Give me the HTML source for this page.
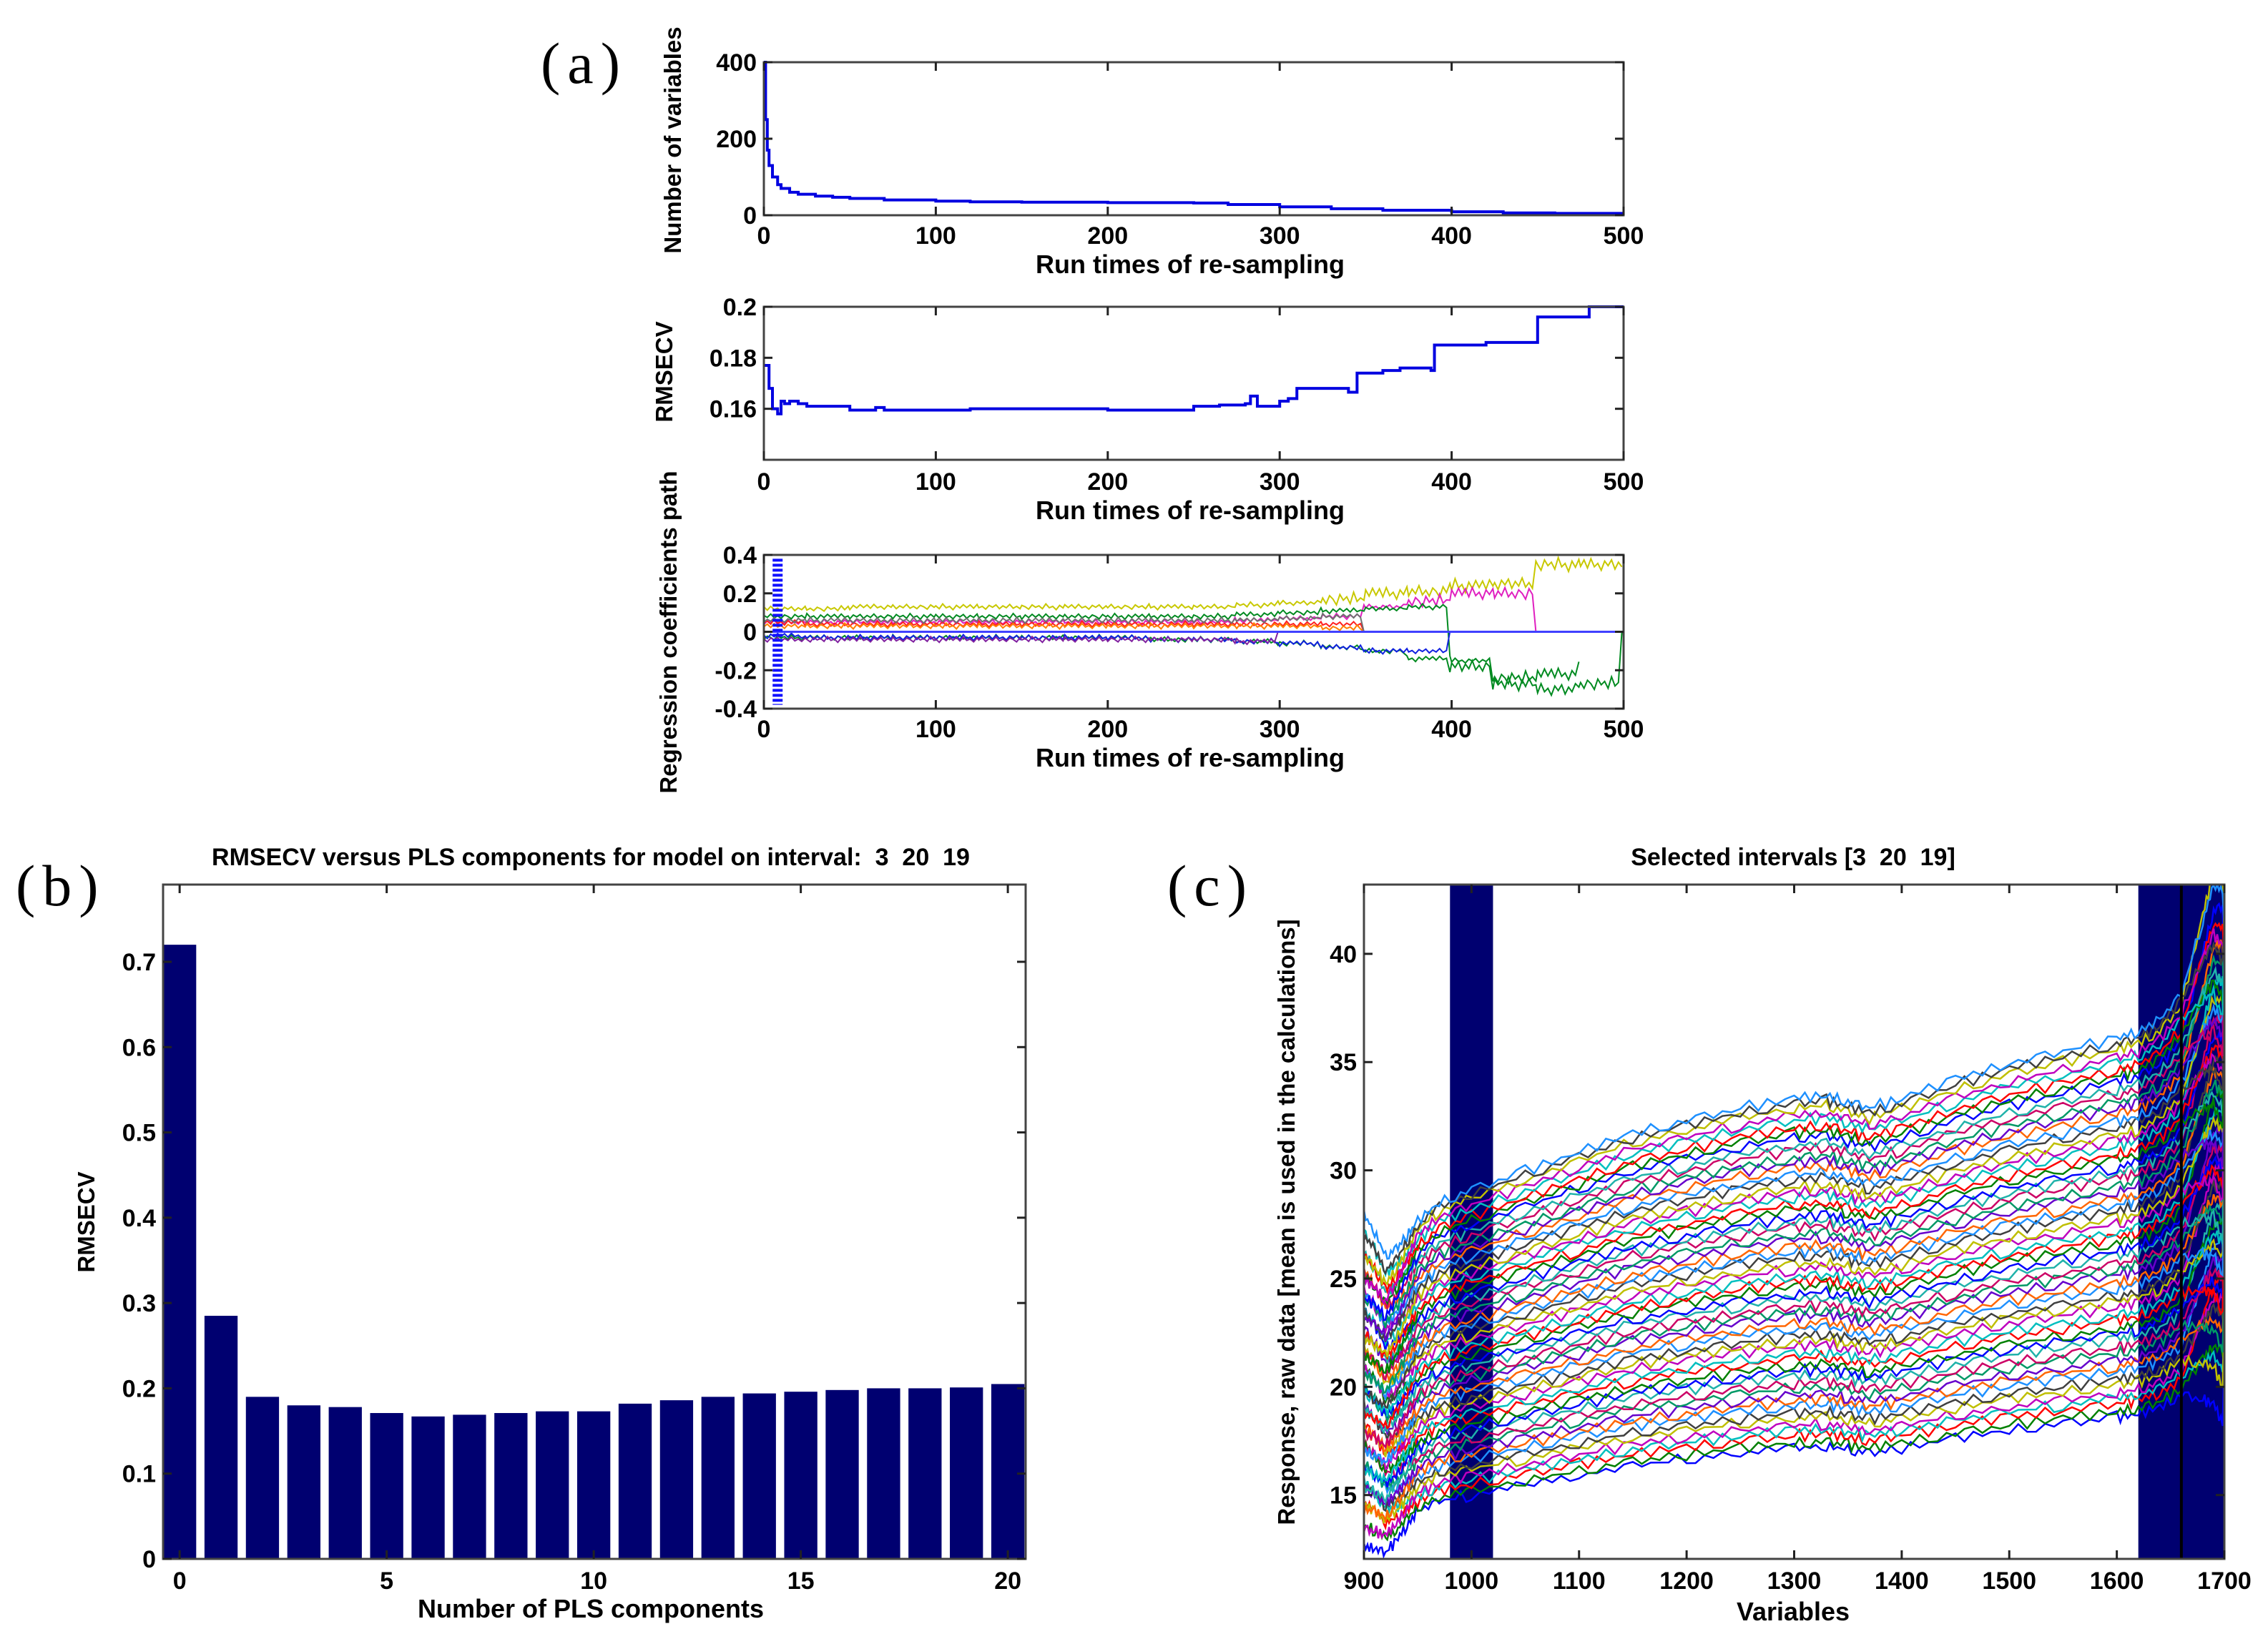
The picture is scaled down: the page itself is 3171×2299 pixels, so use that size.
<!DOCTYPE html>
<html><head><meta charset="utf-8">
<style>
html,body{margin:0;padding:0;background:#fff;}
svg{display:block;}
text{font-family:"Liberation Sans",Arial,sans-serif;font-weight:bold;fill:#000;white-space:pre;}
.lbl{font-family:"Liberation Serif","Noto Serif CJK SC",serif;font-weight:normal;font-size:82px;letter-spacing:10px;}
</style></head>
<body>
<svg id="fig" width="3171" height="2299" viewBox="0 0 3171 2299" xmlns="http://www.w3.org/2000/svg" xml:space="preserve">
<text class="lbl" x="756" y="116">(a)</text>
<text class="lbl" x="22" y="1266">(b)</text>
<text class="lbl" x="1632" y="1266">(c)</text>
</svg>
<script>
// ---- panel a1: number of variables ----
const nvRuns = [0,1,2,3,5,8,10,15,20,30,40,50,70,100,120,150,200,250,270,300,330,360,400,430,460,500];
const nvVals = [400,250,170,130,100,80,70,60,55,50,47,44,40,37,35,34,33,32,28,22,17,13,9,6,5,5];
// ---- panel a2: RMSECV ----
const rmRuns = [0,3,5,8,10,12,15,20,25,30,50,65,70,100,120,150,200,250,265,280,283,287,300,305,310,330,340,345,360,370,388,390,420,447,450,475,480,500];
const rmVals = [0.177,0.168,0.160,0.158,0.163,0.162,0.163,0.162,0.161,0.161,0.1595,0.1605,0.1595,0.1595,0.160,0.160,0.1595,0.161,0.1615,0.162,0.165,0.161,0.163,0.164,0.168,0.168,0.1665,0.174,0.175,0.176,0.175,0.185,0.186,0.186,0.196,0.196,0.2,0.2];
// ---- panel a3: coefficient paths (sampled every 25 runs; null = eliminated) ----
const coefRuns = [0,25,50,75,100,125,150,175,200,225,250,275,300,325,350,375,400,425,450,475,500];
const coefYellow = [0.12,0.12,0.13,0.13,0.13,0.13,0.13,0.13,0.13,0.13,0.13,0.14,0.15,0.17,0.2,0.21,0.24,0.25,0.35,0.35,0.35];
const coefMagenta = [0.05,0.05,0.05,0.05,0.05,0.05,0.05,0.05,0.05,0.05,0.05,0.06,0.07,0.08,0.13,0.16,0.2,0.2,0,0,0];
const coefGreenA = [0.08,0.08,0.08,0.08,0.08,0.08,0.08,0.08,0.08,0.08,0.08,0.09,0.1,0.11,0.12,0.13,-0.15,-0.24,-0.22,-0.18,null];
const coefGreenB = [-0.03,-0.03,-0.03,-0.03,-0.03,-0.03,-0.03,-0.03,-0.03,-0.04,-0.04,-0.05,-0.06,-0.08,-0.1,-0.14,-0.18,-0.27,-0.3,-0.27,0];
const coefRed = [0.05,0.04,0.04,0.04,0.04,0.04,0.04,0.04,0.04,0.04,0.04,0.04,0.04,0.04,0,0,0,0,0,0,0];
const coefBlue = [-0.02,-0.03,-0.03,-0.03,-0.03,-0.03,-0.03,-0.03,-0.03,-0.04,-0.04,-0.05,-0.06,-0.08,-0.1,-0.1,0,0,0,0,0];
const coefOrange = [0.03,0.03,0.03,0.03,0.03,0.03,0.03,0.03,0.03,0.03,0.03,0.03,0.03,0.02,0,0,0,0,0,0,0];
const coefPurple = [-0.04,-0.04,-0.04,-0.04,-0.04,-0.04,-0.04,-0.04,-0.04,-0.04,-0.04,-0.05,0,0,0,0,0,0,0,0,0];
const coefGray = [0.06,0.06,0.06,0.06,0.06,0.06,0.06,0.06,0.06,0.06,0.06,0.06,0.07,0.08,0,0,0,0,0,0,0];
const coefSeries = [coefYellow,coefMagenta,coefGreenA,coefGreenB,coefRed,coefBlue,coefOrange,coefPurple,coefGray];
const coefNames = ['yellow','magenta','green-a','green-b','red','blue','orange','purple','gray'];
const coefColors = ['#c8c800','#e020c0','#008a20','#008a20','#ff2020','#1020e0','#ff8000','#8020a0','#707070'];
const runTicks = [0,100,200,300,400,500];
// ---- panel b ----
const plsComp = [0,1,2,3,4,5,6,7,8,9,10,11,12,13,14,15,16,17,18,19,20];
const plsRmsecv = [0.72,0.285,0.19,0.18,0.178,0.171,0.167,0.169,0.171,0.173,0.173,0.182,0.186,0.19,0.194,0.196,0.198,0.2,0.2,0.201,0.205];
const bYTicks = [0,0.1,0.2,0.3,0.4,0.5,0.6,0.7];
const bXTicks = [0,5,10,15,20];
// ---- panel c ----
const wl = [900,910,920,930,940,950,970,1000,1050,1100,1150,1200,1250,1300,1330,1350,1370,1400,1450,1500,1550,1600,1620,1640,1660,1680,1690,1700];
const wlRatio = [0.92,0.90,0.87,0.89,0.92,0.95,0.98,1.0,1.03,1.06,1.09,1.11,1.13,1.145,1.15,1.14,1.13,1.145,1.175,1.2,1.22,1.24,1.25,1.27,1.31,1.40,1.44,1.42];
const baseAt1000 = [15.0,15.2,15.5,15.7,15.9,16.2,16.4,16.7,16.9,17.1,17.4,17.6,17.9,18.1,18.3,18.6,18.8,19.1,19.3,19.5,19.8,20.0,20.3,20.5,20.7,21.0,21.2,21.5,21.7,21.9,22.2,22.4,22.7,22.9,23.1,23.4,23.6,23.9,24.1,24.3,24.6,24.8,25.1,25.3,25.5,25.8,26.0,26.3,26.5,26.7,27.0,27.2,27.5,27.7,27.9,28.2,28.4,28.7,28.9,29.1];
const specJitter = [0.2,-0.15,0.25,-0.1,0.05,-0.25,0.15,-0.05,0.2,-0.2,0.1,-0.1,0.25,-0.15,0.05,-0.2,0.15,0.0,-0.25,0.2,-0.05,0.1,-0.2,0.3,-0.1,0.05,-0.3,0.15,-0.12,0.22,-0.08];
const specColors = ['#0000ff','#008000','#ff0000','#00bfbf','#bf00bf','#bfbf00','#404040','#1e90ff','#ff6600','#6600cc','#009966','#cc0066','#20b2aa'];
const cBands = [[980,1020],[1620,1660],[1660,1700]];
const cXTicks = [900,1000,1100,1200,1300,1400,1500,1600,1700];
const cYTicks = [15,20,25,30,35,40];

const NS='http://www.w3.org/2000/svg';
const svg=document.getElementById('fig');
function mk(tag,attrs,parent){const e=document.createElementNS(NS,tag);for(const k in attrs)e.setAttribute(k,attrs[k]);(parent||svg).appendChild(e);return e;}
function lin(d0,d1,r0,r1){return v=>r0+(v-d0)/(d1-d0)*(r1-r0);}

function frame(L,T,R,B,name){
  const r=mk('rect',{x:L,y:T,width:R-L,height:B-T,fill:'none',stroke:'#444','stroke-width':3});
  
  
}
function xTicks(ticks,sx,T,B,ly,fs,name){
  ticks.forEach(t=>{
    mk('line',{x1:sx(t),x2:sx(t),y1:B,y2:B-12,stroke:'#222','stroke-width':3});
    mk('line',{x1:sx(t),x2:sx(t),y1:T,y2:T+12,stroke:'#222','stroke-width':3});
    const tx=mk('text',{x:sx(t),y:ly,'font-size':fs,'text-anchor':'middle'});tx.textContent=t;
    
    
  });
}
function yTicks(ticks,sy,L,R,lx,fs,name){
  ticks.forEach(t=>{
    mk('line',{x1:L,x2:L+12,y1:sy(t),y2:sy(t),stroke:'#222','stroke-width':3});
    mk('line',{x1:R,x2:R-12,y1:sy(t),y2:sy(t),stroke:'#222','stroke-width':3});
    const tx=mk('text',{x:lx,y:sy(t)+12,'font-size':fs,'text-anchor':'end'});tx.textContent=t;
    
    
  });
}
function txt(s,x,y,fs,name,rot){
  const a={x:x,y:y,'font-size':fs,'text-anchor':'middle'};
  if(rot)a.transform='rotate(-90 '+x+' '+y+')';
  const t=mk('text',a);t.textContent=s;
  
  
}
function stepPath(xs,ys,sx,sy){let d='M'+sx(xs[0])+','+sy(ys[0]);for(let i=1;i<xs.length;i++){d+=' H'+sx(xs[i])+' V'+sy(ys[i]);}return d;}

// ===== a1 =====
(function(){
  const L=1068,R=2270,T=87,B=301;
  const sx=lin(0,500,L,R), sy=lin(0,400,B,T);
  let d='M'+sx(nvRuns[0])+','+sy(nvVals[0]);
  for(let i=1;i<nvRuns.length;i++) d+=' H'+sx(nvRuns[i])+' V'+sy(nvVals[i]);
  const p=mk('path',{d:d,fill:'none',stroke:'#0000e0','stroke-width':4});
  
  
  frame(L,T,R,B,'variables-plot');
  xTicks(runTicks,sx,T,B,341,34,'variables');
  yTicks([0,200,400],sy,L,R,1058,34,'variables');
  txt('Run times of re-sampling',1664,382,36,'variables-x-axis-title');
  txt('Number of variables',952,196,33,'variables-y-axis-title',true);
})();
// ===== a2 =====
(function(){
  const L=1068,R=2270,T=429,B=643;
  const sx=lin(0,500,L,R), sy=lin(0.14,0.2,B,T);
  const p=mk('path',{d:stepPath(rmRuns,rmVals,sx,sy),fill:'none',stroke:'#0000e0','stroke-width':4});
  
  
  frame(L,T,R,B,'rmsecv-plot');
  xTicks(runTicks,sx,T,B,685,34,'rmsecv');
  yTicks([0.16,0.18,0.2],sy,L,R,1058,34,'rmsecv');
  txt('Run times of re-sampling',1664,726,36,'rmsecv-x-axis-title');
  txt('RMSECV',940,520,33,'rmsecv-y-axis-title',true);
})();
// ===== a3 =====
(function(){
  const L=1068,R=2270,T=776,B=991;
  const sx=lin(0,500,L,R), sy=lin(-0.4,0.4,B,T);
  const g=mk('g',{});
  
  
  coefSeries.forEach((ser,si)=>{
    let d='';let k=0;
    for(let i=0;i<ser.length-1;i++){
      if(ser[i]===null||ser[i+1]===null)continue;
      for(let s=0;s<25;s+=2){
        const r=coefRuns[i]+s;
        let v=ser[i]+(s>=24?ser[i+1]-ser[i]:0);
        if(v!==0) v+=specJitter[(k+si*5)%specJitter.length]*(Math.abs(v)>0.15?0.12:0.05);
        k++;
        d+=(d?' L':'M')+sx(r)+','+sy(v);
      }
    }
    const p=mk('path',{d:d,fill:'none',stroke:coefColors[si],'stroke-width':2},g);
    
    
  });
  const z=mk('line',{x1:sx(0),x2:R,y1:sy(0),y2:sy(0),stroke:'#4040ff','stroke-width':3});
  
  
  const st=mk('line',{x1:sx(8),x2:sx(8),y1:sy(0.38),y2:sy(-0.38),stroke:'#1010ff','stroke-width':14,'stroke-dasharray':'4 3'});
  
  
  frame(L,T,R,B,'coef-plot');
  xTicks(runTicks,sx,T,B,1031,34,'coef');
  yTicks([-0.4,-0.2,0,0.2,0.4],sy,L,R,1058,34,'coef');
  txt('Run times of re-sampling',1664,1072,36,'coef-x-axis-title');
  txt('Regression coefficients path',946,884,33,'coef-y-axis-title',true);
})();
// ===== b =====
(function(){
  const L=228,R=1434,T=1237,B=2180;
  const sx=lin(-0.4,20.43,L,R), sy=lin(0,0.7,B,1345);
  plsComp.forEach((c,i)=>{
    const r=mk('rect',{x:sx(c-0.4),y:sy(plsRmsecv[i]),width:sx(c+0.4)-sx(c-0.4),height:B-sy(plsRmsecv[i]),fill:'#000070'});
    
    
  });
  frame(L,T,R,B,'pls-plot');
  xTicks(bXTicks,sx,T,B,2222,34,'pls');
  yTicks(bYTicks,sy,L,R,218,34,'pls');
  txt('RMSECV versus PLS components for model on interval:  3  20  19',826,1210,34,'pls-chart-title');
  txt('Number of PLS components',826,2262,36,'pls-x-axis-title');
  txt('RMSECV',132,1709,33,'pls-y-axis-title',true);
})();
// ===== c =====
(function(){
  const L=1907,R=3110,T=1237,B=2180;
  const sx=lin(900,1700,L,R), sy=lin(12.05,43.2,B,T);
  cBands.forEach((b,i)=>{
    const r=mk('rect',{x:sx(b[0]),y:T,width:sx(b[1])-sx(b[0]),height:B-T,fill:'#000070'});
    
    
  });
  const g=mk('g',{});
  
  
  g.setAttribute('clip-path','url(#cclip)');
  const cp=mk('clipPath',{id:'cclip'});
  mk('rect',{x:L,y:T,width:R-L,height:B-T},cp);
  baseAt1000.forEach((b,si)=>{
    let d='';
    for(let i=0;i<wl.length-1;i++){
      for(let s=0;s<6;s++){
        const x=wl[i]+(wl[i+1]-wl[i])*s/6;
        const rr=wlRatio[i]+(wlRatio[i+1]-wlRatio[i])*s/6;
        let v=b*rr+specJitter[(i*7+s*3+si*11)%specJitter.length]*0.9;
        if(x>1660) v+= ((si*7)%5-2)*1.6*(x-1660)/40;
        if(x<950) v+= ((si*5)%4-1.5)*0.8*(950-x)/50;
        d+=(d?' L':'M')+sx(x).toFixed(1)+','+sy(v).toFixed(1);
      }
    }
    d+=' L'+sx(1700)+','+sy(b*wlRatio[wl.length-1]);
    const p=mk('path',{d:d,fill:'none',stroke:specColors[si%specColors.length],'stroke-width':2.5},g);
    
    
  });
  const sep=mk('line',{x1:sx(1660),x2:sx(1660),y1:T,y2:B,stroke:'#000','stroke-width':4});
  
  
  frame(L,T,R,B,'spectra-plot');
  xTicks(cXTicks,sx,T,B,2222,34,'spectra');
  yTicks(cYTicks,sy,L,R,1897,34,'spectra');
  txt('Selected intervals [3  20  19]',2507,1210,34,'spectra-chart-title');
  txt('Variables',2507,2266,36,'spectra-x-axis-title');
  txt('Response, raw data [mean is used in the calculations]',1810,1709,33,'spectra-y-axis-title',true);
})();
</script>
</body></html>
